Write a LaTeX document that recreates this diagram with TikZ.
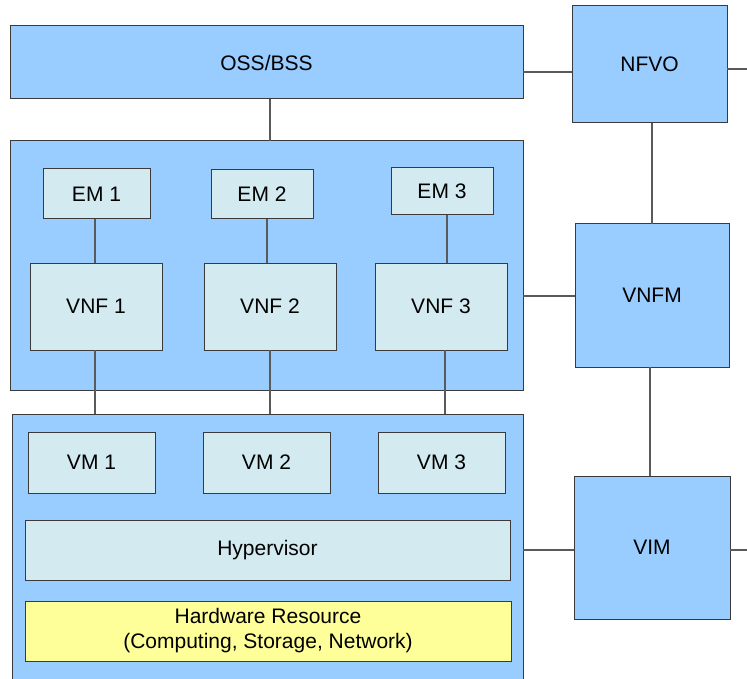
\documentclass[tikz,border=0pt]{standalone}
\usepackage{fontspec}
\setmainfont{Liberation Sans}
\definecolor{bluefill}{HTML}{99CCFF}
\definecolor{cyanfill}{HTML}{D3EAF0}
\definecolor{yellowfill}{HTML}{FFFF99}
\definecolor{edge}{HTML}{3A3A3A}
\definecolor{wire}{HTML}{5A5A5A}
\tikzset{
  basebox/.style={draw=edge, line width=1pt, inner sep=0pt, outer sep=0pt, anchor=north west, font=\fontsize{21}{25}\selectfont, align=center},
  bluebox/.style={basebox, fill=bluefill},
  cyanbox/.style={basebox, fill=cyanfill},
  yellowbox/.style={basebox, fill=yellowfill},
  wireline/.style={draw=wire, line width=1.1pt},
}
\begin{document}
\begin{tikzpicture}[x=1pt,y=-1pt]
\clip (0,0) rectangle (747,679);
\fill[white] (0,0) rectangle (747,679);
% containers and top-level boxes
\node[bluebox, minimum width=513pt, minimum height=73pt] (oss) at (10,26) {OSS/BSS};
\node[bluebox, minimum width=155pt, minimum height=117pt] (nfvo) at (572,6) {NFVO};
\node[bluebox, minimum width=513pt, minimum height=249pt] (vnfc) at (10,141) {};
\node[bluebox, minimum width=511pt, minimum height=280pt] (nfvi) at (12,414) {};
\node[bluebox, minimum width=154pt, minimum height=143pt] (vnfm) at (575,224) {VNFM};
\node[bluebox, minimum width=156pt, minimum height=143pt] (vim) at (574,476) {VIM};
% EMs
\node[cyanbox, minimum width=107pt, minimum height=50pt] (em1) at (43,169) {EM 1};
\node[cyanbox, minimum width=102pt, minimum height=49pt] (em2) at (211,170) {EM 2};
\node[cyanbox, minimum width=102pt, minimum height=47pt] (em3) at (391,168) {EM 3};
% VNFs
\node[cyanbox, minimum width=132pt, minimum height=87pt] (vnf1) at (30,263) {VNF 1};
\node[cyanbox, minimum width=132pt, minimum height=87pt] (vnf2) at (204,263) {VNF 2};
\node[cyanbox, minimum width=132pt, minimum height=87pt] (vnf3) at (375,263) {VNF 3};
% VMs
\node[cyanbox, minimum width=127pt, minimum height=61pt] (vm1) at (28,432) {VM 1};
\node[cyanbox, minimum width=127pt, minimum height=61pt] (vm2) at (203,432) {VM 2};
\node[cyanbox, minimum width=127pt, minimum height=61pt] (vm3) at (378,432) {VM 3};
% Hypervisor and hardware
\node[cyanbox, minimum width=485pt, minimum height=60pt] (hyp) at (25,520) {Hypervisor};
\node[yellowbox, minimum width=486pt, minimum height=60pt] (hw) at (25,601) {Hardware Resource\\(Computing, Storage, Network)};
% free ends
\coordinate (nfvoout) at (747,69);
\coordinate (vimout) at (747,550);
% connectors
\draw[wireline] (270,99) coordinate (ossb) -- (ossb |- vnfc.north);
\draw[wireline] (oss.east |- 0,72) -- (nfvo.west |- 0,72);
\draw[wireline] (nfvo.east |- nfvoout) -- (nfvoout);
\draw[wireline] (652,123) coordinate (nfvob) -- (nfvob |- vnfm.north);
\draw[wireline] (vnfc.east |- 0,296) -- (vnfm.west |- 0,296);
\draw[wireline] (650,367) coordinate (vnfmb) -- (vnfmb |- vim.north);
\draw[wireline] (nfvi.east |- vimout) -- (vim.west |- vimout);
\draw[wireline] (vim.east |- vimout) -- (vimout);
\draw[wireline] (95,219) coordinate (e1) -- (e1 |- vnf1.north);
\draw[wireline] (267,219) coordinate (e2) -- (e2 |- vnf2.north);
\draw[wireline] (447,215) coordinate (e3) -- (e3 |- vnf3.north);
\draw[wireline] (95,350) coordinate (v1) -- (v1 |- nfvi.north);
\draw[wireline] (270,350) coordinate (v2) -- (v2 |- nfvi.north);
\draw[wireline] (445,350) coordinate (v3) -- (v3 |- nfvi.north);
\end{tikzpicture}
\end{document}
